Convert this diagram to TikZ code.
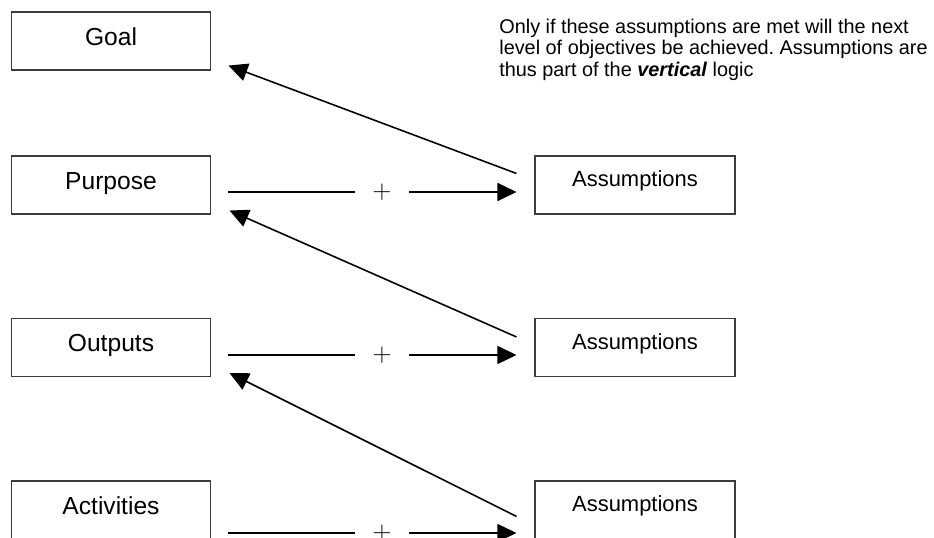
\documentclass[tikz,border=0pt]{standalone}
\usepackage{fontspec}
\setmainfont{Liberation Sans}
\usetikzlibrary{arrows.meta, calc}
\definecolor{boxgray}{RGB}{60,60,60}
\frenchspacing

\tikzset{
    tier/.style={draw=boxgray, line width=0.6pt, minimum width=3.98cm, minimum height=1.16cm,
        inner sep=0pt, font=\fontsize{14}{17}\selectfont, text height=0.7em, text depth=0.22em},
    assumebox/.style={tier, minimum width=4cm, font=\fontsize{12.5}{15}\selectfont,
        text height=0.7em, text depth=0.5em},
    linkline/.style={line width=0.9pt},
    pusharrow/.style={linkline, -{Triangle[length=3.8mm, width=3.6mm]}},
    plussign/.style={inner sep=0pt, minimum width=1.08cm, font=\fontsize{14}{17}\selectfont}
}

\begin{document}
\begin{tikzpicture}
    \useasboundingbox (0, 0) rectangle (18.68, 10.74);
    % Objective levels
    \node[tier] (goal) at (2.22, 9.92) {Goal};
    \node[tier] (purpose) at (2.22, 7.04) {Purpose};
    \node[tier] (outputs) at (2.22, 3.79) {Outputs};
    \node[tier] (activities) at (2.22, 0.54) {Activities};
    % Assumptions
    \node[assumebox] (assume1) at (12.7, 7.04) {Assumptions};
    \node[assumebox] (assume2) at (12.7, 3.79) {Assumptions};
    \node[assumebox] (assume3) at (12.7, 0.54) {Assumptions};
    % Plus signs
    \node[plussign] (plus1) at (7.64, 6.90) {$+$};
    \node[plussign] (plus2) at (7.64, 3.64) {$+$};
    \node[plussign] (plus3) at (7.64, 0.08) {$+$};
    % Horizontal links
    \draw[linkline] ($(purpose.east |- plus1) + (0.34, 0)$) -- (plus1.west);
    \draw[pusharrow] (plus1.east) -- ($(assume1.west |- plus1) + (-0.36, 0)$);
    \draw[linkline] ($(outputs.east |- plus2) + (0.34, 0)$) -- (plus2.west);
    \draw[pusharrow] (plus2.east) -- ($(assume2.west |- plus2) + (-0.36, 0)$);
    \draw[linkline] ($(activities.east |- plus3) + (0.34, 0)$) -- (plus3.west);
    \draw[pusharrow] (plus3.east) -- ($(assume3.west |- plus3) + (-0.36, 0)$);
    % Vertical logic
    \draw[pusharrow] ($(assume1.north west) + (-0.36, -0.36)$) -- ($(goal.south east) + (0.35, 0.10)$);
    \draw[pusharrow] ($(assume2.north west) + (-0.36, -0.38)$) -- ($(purpose.south east) + (0.37, 0.08)$);
    \draw[pusharrow] ($(assume3.north west) + (-0.36, -0.72)$) -- ($(outputs.south east) + (0.37, 0.08)$);
    % Note
    \node[anchor=north west, align=left, inner sep=0pt, font=\fontsize{11.3}{12.3}\selectfont] (note)
        at (9.98, 10.37) {Only if these assumptions are met will the next\\
        level of objectives be achieved. Assumptions are\\
        thus part of the \textbf{\textit{vertical}} logic};
\end{tikzpicture}
\end{document}
